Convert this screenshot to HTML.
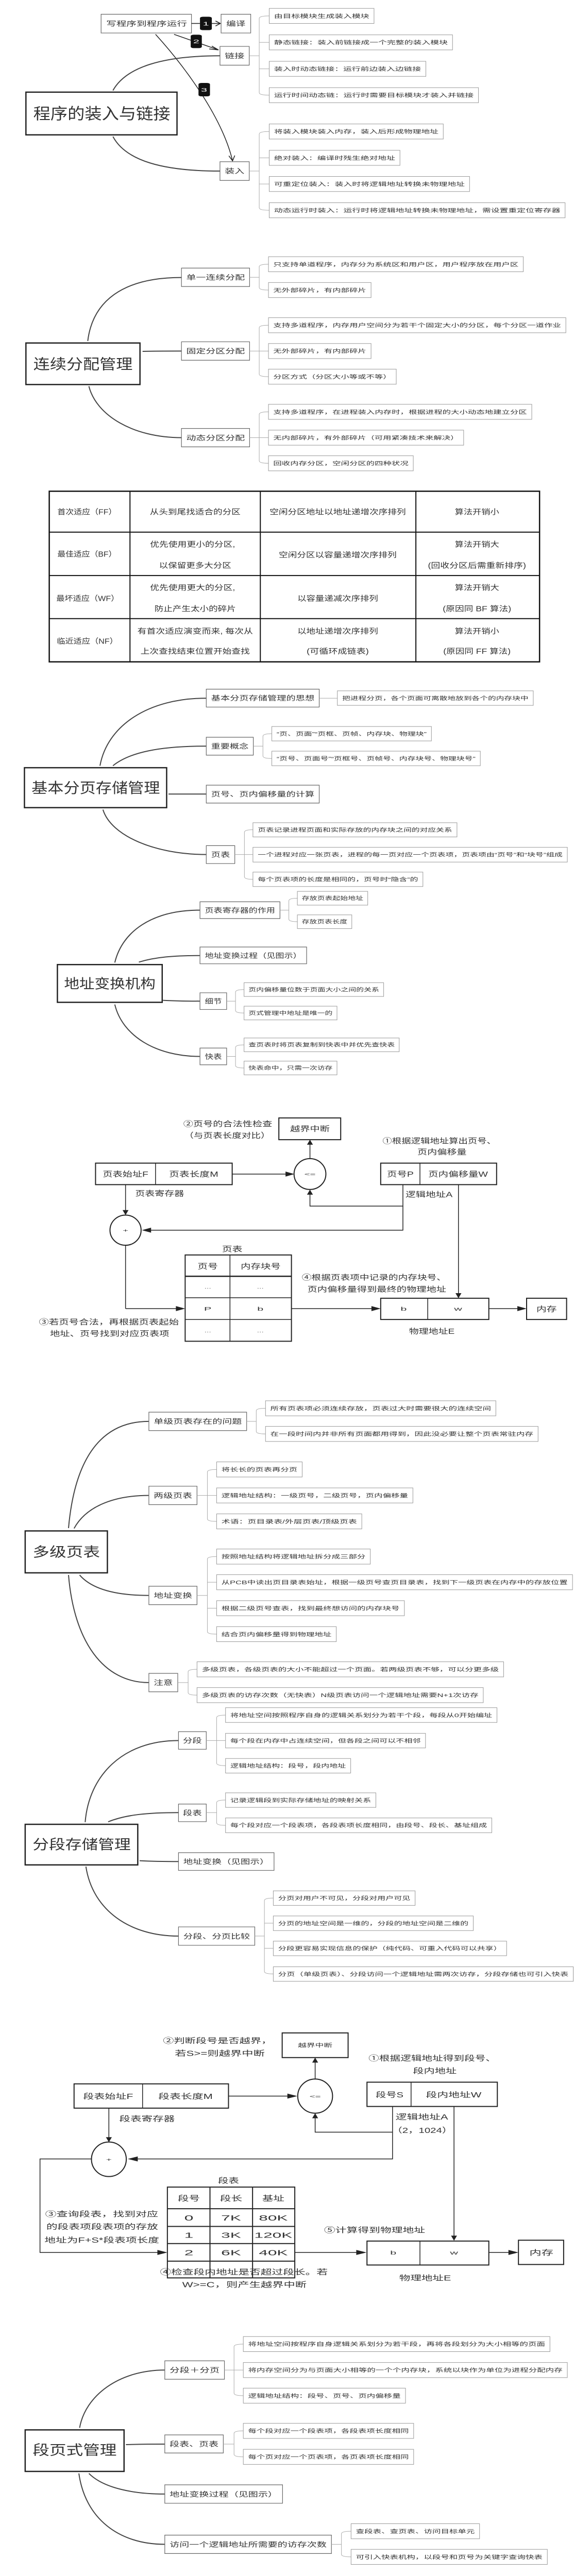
<!DOCTYPE html>
<html><head><meta charset="utf-8">
<style>
html,body{margin:0;padding:0;background:#fff;width:1114px;height:5145px;overflow:hidden;}
#wrap{width:1114px;height:5145px;overflow:hidden;position:relative;}
svg{display:block;position:absolute;left:0;top:0;width:1114px;height:5145px;}
svg *{vector-effect:non-scaling-stroke;}
text{font-family:"Liberation Sans","Noto Sans CJK SC",sans-serif;fill:#333;}
.c rect,rect.c{fill:#fff;stroke:#999;stroke-width:1;}
.cl{fill:none;stroke:#aaa;stroke-width:1;}
.cv{fill:none;stroke:#444;stroke-width:2;}
.t{fill:#fff;stroke:#222;stroke-width:2.5;}
.m{fill:#fff;stroke:#666;stroke-width:1.2;}
.d{fill:#fff;stroke:#222;stroke-width:2;}
.ln{fill:none;stroke:#222;stroke-width:1.5;}
.ct{font-size:32px;}
.mt{font-size:40px;}
.tt{font-size:88px;}
.tb{font-size:44px;text-anchor:middle;}
.dg{font-size:44px;}
.dm{font-size:44px;text-anchor:middle;}
</style></head>
<body><div id="wrap">
<svg width="1114" height="5145" viewBox="0 0 1550 15820" preserveAspectRatio="none" xmlns="http://www.w3.org/2000/svg">

<!-- ========== 程序的装入与链接 ========== -->
<rect class="m" x="273" y="85" width="244" height="112"/>
<text class="mt" x="287" y="155" textLength="218" lengthAdjust="spacingAndGlyphs">写程序到程序运行</text>
<line class="ln" x1="517" y1="140" x2="540" y2="140"/>
<rect x="540" y="100" width="32" height="80" rx="8" fill="#111"/>
<text x="556" y="152" font-size="30" style="fill:#fff" text-anchor="middle">1</text>
<line class="ln" x1="572" y1="140" x2="594" y2="140"/>
<path class="ln" d="M582 125 L595 140 L582 155"/>
<rect class="m" x="597" y="85" width="80" height="112"/>
<text class="mt" x="611" y="155" textLength="52" lengthAdjust="spacingAndGlyphs">编译</text>
<line class="ln" x1="470" y1="205" x2="590" y2="298"/>
<path class="ln" d="M572 275 L590 298 L565 292"/>
<rect x="515" y="207" width="30" height="80" rx="8" fill="#111"/>
<text x="530" y="259" font-size="30" style="fill:#fff" text-anchor="middle">2</text>
<rect class="m" x="594" y="277" width="79" height="112"/>
<text class="mt" x="607" y="347" textLength="53" lengthAdjust="spacingAndGlyphs">链接</text>
<path class="ln" d="M420 205 C500 400, 600 700, 628 960"/>
<path class="ln" d="M618 930 L628 960 L634 928"/>
<rect x="536" y="495" width="31" height="80" rx="8" fill="#111"/>
<text x="551" y="547" font-size="30" style="fill:#fff" text-anchor="middle">3</text>
<rect class="m" x="594" y="965" width="79" height="112"/>
<text class="mt" x="607" y="1035" textLength="53" lengthAdjust="spacingAndGlyphs">装入</text>
<path class="cv" d="M305 540 C340 400, 440 333, 594 333"/>
<path class="cv" d="M305 815 C340 960, 440 1021, 594 1021"/>
<rect class="t" x="70" y="550" width="408" height="255"/>
<text class="tt" x="90" y="712" style="font-size:95px" textLength="370" lengthAdjust="spacingAndGlyphs">程序的装入与链接</text>

<path class="cl" d="M673 333 H700 M727 95 Q700 95 700 110 V553 Q700 568 727 568 M700 253 H727 M700 411 H727"/>
<path class="cl" d="M673 1021 H700 M727 785 Q700 785 700 800 V1240 Q700 1255 727 1255 M700 942 H727 M700 1098 H727"/>
<g class="c">
<rect x="727" y="50" width="283" height="90"/><text class="ct" x="740" y="107" textLength="257" lengthAdjust="spacingAndGlyphs">由目标模块生成装入模块</text>
<rect x="727" y="208" width="495" height="90"/><text class="ct" x="740" y="265" textLength="469" lengthAdjust="spacingAndGlyphs">静态链接：装入前链接成一个完整的装入模块</text>
<rect x="727" y="366" width="423" height="90"/><text class="ct" x="740" y="423" textLength="397" lengthAdjust="spacingAndGlyphs">装入时动态链接：运行前边装入边链接</text>
<rect x="727" y="523" width="565" height="90"/><text class="ct" x="740" y="580" textLength="539" lengthAdjust="spacingAndGlyphs">运行时间动态链：运行时需要目标模块才装入并链接</text>
<rect x="727" y="740" width="470" height="90"/><text class="ct" x="740" y="797" textLength="444" lengthAdjust="spacingAndGlyphs">将装入模块装入内存，装入后形成物理地址</text>
<rect x="727" y="897" width="353" height="90"/><text class="ct" x="740" y="954" textLength="327" lengthAdjust="spacingAndGlyphs">绝对装入：编译时残生绝对地址</text>
<rect x="727" y="1053" width="541" height="90"/><text class="ct" x="740" y="1110" textLength="515" lengthAdjust="spacingAndGlyphs">可重定位装入：装入时将逻辑地址转换未物理地址</text>
<rect x="727" y="1210" width="799" height="90"/><text class="ct" x="740" y="1267" textLength="773" lengthAdjust="spacingAndGlyphs">动态运行时装入：运行时将逻辑地址转换未物理地址，需设置重定位寄存器</text>
</g>

<!-- ========== 连续分配管理 ========== -->
<path class="cv" d="M237 2035 C250 1800, 330 1656, 490 1656"/>
<path class="cv" d="M385 2097 C420 2095, 450 2095, 490 2095"/>
<path class="cv" d="M240 2305 C260 2480, 360 2612, 490 2612"/>
<rect class="t" x="70" y="2047" width="308" height="248"/>
<text class="tt" x="90" y="2203" style="font-size:85px" textLength="268" lengthAdjust="spacingAndGlyphs">连续分配管理</text>
<rect class="m" x="490" y="1600" width="184" height="110"/><text class="mt" x="503" y="1670" textLength="158" lengthAdjust="spacingAndGlyphs">单一连续分配</text>
<rect class="m" x="490" y="2040" width="184" height="110"/><text class="mt" x="503" y="2110" textLength="158" lengthAdjust="spacingAndGlyphs">固定分区分配</text>
<rect class="m" x="490" y="2557" width="184" height="110"/><text class="mt" x="503" y="2627" textLength="158" lengthAdjust="spacingAndGlyphs">动态分区分配</text>
<path class="cl" d="M674 1655 H700 M725 1577 Q700 1577 700 1592 V1716 Q700 1731 725 1731"/>
<path class="cl" d="M674 2095 H725 M725 1941 Q700 1941 700 1956 V2233 Q700 2248 725 2248"/>
<path class="cl" d="M674 2612 H725 M725 2458 Q700 2458 700 2473 V2750 Q700 2765 725 2765"/>
<g class="c">
<rect x="725" y="1532" width="688" height="90"/><text class="ct" x="738" y="1589" textLength="662" lengthAdjust="spacingAndGlyphs">只支持单道程序，内存分为系统区和用户区，用户程序放在用户区</text>
<rect x="725" y="1686" width="277" height="90"/><text class="ct" x="738" y="1743" textLength="251" lengthAdjust="spacingAndGlyphs">无外部碎片，有内部碎片</text>
<rect x="725" y="1896" width="803" height="90"/><text class="ct" x="738" y="1953" textLength="777" lengthAdjust="spacingAndGlyphs">支持多道程序，内存用户空间分为若干个固定大小的分区，每个分区一道作业</text>
<rect x="725" y="2050" width="277" height="90"/><text class="ct" x="738" y="2107" textLength="251" lengthAdjust="spacingAndGlyphs">无外部碎片，有内部碎片</text>
<rect x="725" y="2203" width="345" height="90"/><text class="ct" x="738" y="2260" textLength="319" lengthAdjust="spacingAndGlyphs">分区方式（分区大小等或不等）</text>
<rect x="725" y="2413" width="711" height="90"/><text class="ct" x="738" y="2470" textLength="685" lengthAdjust="spacingAndGlyphs">支持多道程序，在进程装入内存时，根据进程的大小动态地建立分区</text>
<rect x="725" y="2567" width="527" height="90"/><text class="ct" x="738" y="2624" textLength="501" lengthAdjust="spacingAndGlyphs">无内部碎片，有外部碎片（可用紧凑技术来解决）</text>
<rect x="725" y="2720" width="391" height="90"/><text class="ct" x="738" y="2777" textLength="365" lengthAdjust="spacingAndGlyphs">回收内存分区，空闲分区的四种状况</text>
</g>

<!-- table -->
<g>
<rect x="133" y="2932" width="1324" height="1018" fill="#fff" stroke="#111" stroke-width="2.5"/>
<path d="M133 3176 H1457 M133 3435 H1457 M133 3692 H1457 M351 2932 V3950 M703 2932 V3950 M1123 2932 V3950" stroke="#111" stroke-width="2" fill="none"/>
<text class="tb" x="235" y="3071" textLength="160" lengthAdjust="spacingAndGlyphs">首次适应（FF）</text>
<text class="tb" x="527" y="3071" textLength="245" lengthAdjust="spacingAndGlyphs">从头到尾找适合的分区</text>
<text class="tb" x="912" y="3071" textLength="368" lengthAdjust="spacingAndGlyphs">空闲分区地址以地址递增次序排列</text>
<text class="tb" x="1288" y="3071" textLength="120" lengthAdjust="spacingAndGlyphs">算法开销小</text>

<text class="tb" x="235" y="3322" textLength="160" lengthAdjust="spacingAndGlyphs">最佳适应（BF）</text>
<text class="tb" x="520" y="3264" textLength="230" lengthAdjust="spacingAndGlyphs">优先使用更小的分区,</text>
<text class="tb" x="527" y="3390" textLength="195" lengthAdjust="spacingAndGlyphs">以保留更多大分区</text>
<text class="tb" x="912" y="3327" textLength="318" lengthAdjust="spacingAndGlyphs">空闲分区以容量递增次序排列</text>
<text class="tb" x="1288" y="3264" textLength="120" lengthAdjust="spacingAndGlyphs">算法开销大</text>
<text class="tb" x="1288" y="3390" textLength="265" lengthAdjust="spacingAndGlyphs">(回收分区后需重新排序)</text>

<text class="tb" x="237" y="3587" textLength="170" lengthAdjust="spacingAndGlyphs">最坏适应（WF）</text>
<text class="tb" x="520" y="3522" textLength="230" lengthAdjust="spacingAndGlyphs">优先使用更大的分区,</text>
<text class="tb" x="527" y="3649" textLength="220" lengthAdjust="spacingAndGlyphs">防止产生太小的碎片</text>
<text class="tb" x="912" y="3587" textLength="218" lengthAdjust="spacingAndGlyphs">以容量递减次序排列</text>
<text class="tb" x="1288" y="3522" textLength="120" lengthAdjust="spacingAndGlyphs">算法开销大</text>
<text class="tb" x="1288" y="3649" textLength="185" lengthAdjust="spacingAndGlyphs">(原因同 BF 算法)</text>

<text class="tb" x="236" y="3842" textLength="165" lengthAdjust="spacingAndGlyphs">临近适应（NF）</text>
<text class="tb" x="527" y="3782" textLength="312" lengthAdjust="spacingAndGlyphs">有首次适应演变而来, 每次从</text>
<text class="tb" x="527" y="3902" textLength="295" lengthAdjust="spacingAndGlyphs">上次查找结束位置开始查找</text>
<text class="tb" x="912" y="3782" textLength="218" lengthAdjust="spacingAndGlyphs">以地址递增次序排列</text>
<text class="tb" x="912" y="3902" textLength="168" lengthAdjust="spacingAndGlyphs">(可循环成链表)</text>
<text class="tb" x="1288" y="3782" textLength="120" lengthAdjust="spacingAndGlyphs">算法开销小</text>
<text class="tb" x="1288" y="3902" textLength="182" lengthAdjust="spacingAndGlyphs">(原因同 FF 算法)</text>
</g>

<!-- ========== 基本分页存储管理 ========== -->
<path class="cv" d="M270 4570 C290 4330, 400 4167, 557 4167"/>
<path class="cv" d="M305 4570 C350 4490, 430 4453, 557 4453"/>
<path class="cv" d="M455 4739 H557"/>
<path class="cv" d="M278 4832 C300 4990, 420 5100, 557 5100"/>
<rect class="t" x="66" y="4582" width="384" height="238"/>
<text class="tt" x="85" y="4732" style="font-size:85px" textLength="347" lengthAdjust="spacingAndGlyphs">基本分页存储管理</text>
<rect class="m" x="557" y="4113" width="305" height="107"/><text class="mt" x="570" y="4181" textLength="279" lengthAdjust="spacingAndGlyphs">基本分页存储管理的思想</text>
<rect class="m" x="557" y="4400" width="127" height="107"/><text class="mt" x="570" y="4468" textLength="101" lengthAdjust="spacingAndGlyphs">重要概念</text>
<rect class="m" x="557" y="4686" width="305" height="107"/><text class="mt" x="570" y="4754" textLength="279" lengthAdjust="spacingAndGlyphs">页号、页内偏移量的计算</text>
<rect class="m" x="557" y="5047" width="77" height="107"/><text class="mt" x="570" y="5115" textLength="51" lengthAdjust="spacingAndGlyphs">页表</text>
<path class="cl" d="M862 4167 H911"/>
<path class="cl" d="M684 4453 H710 M734 4379 Q710 4379 710 4394 V4512 Q710 4527 734 4527"/>
<path class="cl" d="M634 5100 H683 M683 4952 Q660 4952 660 4967 V5233 Q660 5248 683 5248"/>
<g class="c">
<rect x="911" y="4123" width="529" height="87"/><text class="ct" x="924" y="4178" textLength="503" lengthAdjust="spacingAndGlyphs">把进程分页，各个页面可离散地放到各个的内存块中</text>
<rect x="734" y="4336" width="431" height="86"/><text class="ct" x="747" y="4391" textLength="405" lengthAdjust="spacingAndGlyphs">“页、页面”“页框、页帧、内存块、物理块”</text>
<rect x="734" y="4483" width="563" height="87"/><text class="ct" x="747" y="4538" textLength="537" lengthAdjust="spacingAndGlyphs">“页号、页面号”“页框号、页帧号、内存块号、物理块号”</text>
<rect x="683" y="4910" width="551" height="85"/><text class="ct" x="696" y="4964" textLength="525" lengthAdjust="spacingAndGlyphs">页表记录进程页面和实际存放的内存块之间的对应关系</text>
<rect x="683" y="5057" width="849" height="88"/><text class="ct" x="696" y="5112" textLength="823" lengthAdjust="spacingAndGlyphs">一个进程对应一张页表，进程的每一页对应一个页表项，页表项由“页号”和“块号”组成</text>
<rect x="683" y="5205" width="459" height="86"/><text class="ct" x="696" y="5260" textLength="433" lengthAdjust="spacingAndGlyphs">每个页表项的长度是相同的，页号时“隐含”的</text>
</g>

<!-- ========== 地址变换机构 ========== -->
<path class="cv" d="M310 5745 C330 5560, 410 5432, 540 5432"/>
<path class="cv" d="M375 5742 C420 5712, 470 5703, 540 5703"/>
<path class="cv" d="M440 5970 C480 5975, 510 5975, 540 5975"/>
<path class="cv" d="M310 5995 C330 6180, 420 6305, 540 6305"/>
<rect class="t" x="155" y="5757" width="283" height="225"/>
<text class="tt" x="173" y="5899" style="font-size:80px" textLength="247" lengthAdjust="spacingAndGlyphs">地址变换机构</text>
<rect class="m" x="540" y="5382" width="216" height="100"/><text class="mt" x="553" y="5447" textLength="190" lengthAdjust="spacingAndGlyphs">页表寄存器的作用</text>
<rect class="m" x="540" y="5652" width="288" height="100"/><text class="mt" x="553" y="5717" textLength="262" lengthAdjust="spacingAndGlyphs">地址变换过程（见图示）</text>
<rect class="m" x="540" y="5925" width="72" height="100"/><text class="mt" x="553" y="5990" textLength="46" lengthAdjust="spacingAndGlyphs">细节</text>
<rect class="m" x="540" y="6255" width="72" height="100"/><text class="mt" x="553" y="6320" textLength="46" lengthAdjust="spacingAndGlyphs">快表</text>
<path class="cl" d="M756 5432 H780 M803 5361 Q780 5361 780 5376 V5486 Q780 5501 803 5501"/>
<path class="cl" d="M612 5975 H636 M659 5906 Q636 5906 636 5921 V6031 Q636 6046 659 6046"/>
<path class="cl" d="M612 6305 H636 M659 6236 Q636 6236 636 6251 V6359 Q636 6374 659 6374"/>
<g class="c">
<rect x="803" y="5320" width="190" height="82"/><text class="ct" x="815" y="5372" textLength="166" lengthAdjust="spacingAndGlyphs">存放页表起始地址</text>
<rect x="803" y="5460" width="147" height="82"/><text class="ct" x="815" y="5512" textLength="123" lengthAdjust="spacingAndGlyphs">存放页表长度</text>
<rect x="659" y="5865" width="377" height="82"/><text class="ct" x="671" y="5917" textLength="353" lengthAdjust="spacingAndGlyphs">页内偏移量位数于页面大小之间的关系</text>
<rect x="659" y="6005" width="251" height="82"/><text class="ct" x="671" y="6057" textLength="227" lengthAdjust="spacingAndGlyphs">页式管理中地址是唯一的</text>
<rect x="659" y="6195" width="419" height="82"/><text class="ct" x="671" y="6247" textLength="395" lengthAdjust="spacingAndGlyphs">查页表时将页表复制到快表中并优先查快表</text>
<rect x="659" y="6333" width="251" height="82"/><text class="ct" x="671" y="6385" textLength="227" lengthAdjust="spacingAndGlyphs">快表命中，只需一次访存</text>
</g>

<!-- ========== 页式地址变换图 ========== -->
<rect class="d" x="753" y="6672" width="167" height="130"/>
<text class="dm" x="837" y="6753" textLength="107" lengthAdjust="spacingAndGlyphs">越界中断</text>
<text class="dg" x="495" y="6723" textLength="240" lengthAdjust="spacingAndGlyphs">②页号的合法性检查</text>
<text class="dg" x="497" y="6793" textLength="233" lengthAdjust="spacingAndGlyphs">（与页表长度对比）</text>
<text class="dg" x="1033" y="6825" textLength="307" lengthAdjust="spacingAndGlyphs">①根据逻辑地址算出页号、</text>
<text class="dg" x="1127" y="6890" textLength="133" lengthAdjust="spacingAndGlyphs">页内偏移量</text>
<rect class="d" x="258" y="6942" width="369" height="128"/>
<line class="ln" x1="420" y1="6942" x2="420" y2="7070"/>
<text class="dm" x="339" y="7023" textLength="123" lengthAdjust="spacingAndGlyphs">页表始址F</text>
<text class="dm" x="523" y="7023" textLength="133" lengthAdjust="spacingAndGlyphs">页表长度M</text>
<text class="dg" x="365" y="7138" textLength="132" lengthAdjust="spacingAndGlyphs">页表寄存器</text>
<line class="ln" x1="627" y1="7007" x2="775" y2="7007"/>
<polygon points="771,6992 795,7007 771,7022" fill="#222"/>
<ellipse cx="837" cy="7007" rx="43" ry="92" class="d"/>
<text x="837" y="7017" font-size="26" text-anchor="middle">&lt;=</text>
<line class="ln" x1="837" y1="6915" x2="837" y2="6830"/>
<polygon points="829,6832 837,6802 845,6832" fill="#222"/>
<rect class="d" x="1028" y="6942" width="313" height="128"/>
<line class="ln" x1="1134" y1="6942" x2="1134" y2="7070"/>
<text class="dm" x="1081" y="7023" textLength="72" lengthAdjust="spacingAndGlyphs">页号P</text>
<text class="dm" x="1237" y="7023" textLength="161" lengthAdjust="spacingAndGlyphs">页内偏移量W</text>
<text class="dg" x="1095" y="7145" textLength="127" lengthAdjust="spacingAndGlyphs">逻辑地址A</text>
<path class="ln" d="M1088 7070 V7198 H837 V7128"/>
<polygon points="829,7130 837,7100 845,7130" fill="#222"/>
<path class="ln" d="M1088 7198 V7342 H405"/>
<polygon points="408,7327 383,7342 408,7357" fill="#222"/>
<ellipse cx="339" cy="7342" rx="42" ry="90" class="d"/>
<text x="339" y="7352" font-size="26" text-anchor="middle">+</text>
<line class="ln" x1="339" y1="7070" x2="339" y2="7225"/>
<polygon points="331,7222 339,7252 347,7222" fill="#222"/>
<line class="ln" x1="1238" y1="7070" x2="1238" y2="7722"/>
<polygon points="1230,7718 1238,7748 1246,7718" fill="#222"/>
<text class="dm" x="627" y="7470" textLength="55" lengthAdjust="spacingAndGlyphs">页表</text>
<rect class="d" x="500" y="7490" width="287" height="515"/>
<path class="ln" d="M621 7490 V8005 M500 7617 H787 M500 7745 H787 M500 7875 H787"/>
<path d="M500 7617 H787" stroke="#222" stroke-width="2.5" fill="none"/>
<text class="dm" x="561" y="7573" textLength="55" lengthAdjust="spacingAndGlyphs">页号</text>
<text class="dm" x="704" y="7573" textLength="108" lengthAdjust="spacingAndGlyphs">内存块号</text>
<text x="561" y="7690" font-size="22" text-anchor="middle">...</text>
<text x="703" y="7690" font-size="22" text-anchor="middle">...</text>
<text x="561" y="7822" font-size="30" text-anchor="middle">P</text>
<text x="703" y="7822" font-size="30" text-anchor="middle">b</text>
<text x="561" y="7952" font-size="22" text-anchor="middle">...</text>
<text x="703" y="7952" font-size="22" text-anchor="middle">...</text>
<text class="dg" x="815" y="7640" textLength="390" lengthAdjust="spacingAndGlyphs">④根据页表项中记录的内存块号、</text>
<text class="dg" x="830" y="7710" textLength="375" lengthAdjust="spacingAndGlyphs">页内偏移量得到最终的物理地址</text>
<line class="ln" x1="339" y1="7432" x2="339" y2="7810"/>
<line class="ln" x1="339" y1="7810" x2="478" y2="7810"/>
<polygon points="475,7795 500,7810 475,7825" fill="#222"/>
<text class="dg" x="105" y="7905" textLength="378" lengthAdjust="spacingAndGlyphs">③若页号合法，再根据页表起始</text>
<text class="dg" x="135" y="7975" textLength="322" lengthAdjust="spacingAndGlyphs">地址、页号找到对应页表项</text>
<line class="ln" x1="787" y1="7810" x2="1006" y2="7810"/>
<polygon points="1003,7795 1028,7810 1003,7825" fill="#222"/>
<rect class="d" x="1028" y="7748" width="292" height="127"/>
<line class="ln" x1="1155" y1="7748" x2="1155" y2="7875"/>
<text x="1090" y="7822" font-size="30" text-anchor="middle">b</text>
<text x="1237" y="7822" font-size="30" text-anchor="middle">w</text>
<line class="ln" x1="1320" y1="7810" x2="1400" y2="7810"/>
<polygon points="1397,7795 1422,7810 1397,7825" fill="#222"/>
<rect class="d" x="1422" y="7748" width="108" height="127"/>
<text class="dm" x="1476" y="7828" textLength="55" lengthAdjust="spacingAndGlyphs">内存</text>
<text class="dm" x="1166" y="7960" textLength="123" lengthAdjust="spacingAndGlyphs">物理地址E</text>

<!-- ========== 多级页表 ========== -->
<path class="cv" d="M185 9120 C200 8750, 260 8483, 402 8483"/>
<path class="cv" d="M200 9122 C230 9000, 300 8925, 402 8925"/>
<path class="cv" d="M215 9400 C250 9490, 320 9522, 402 9522"/>
<path class="cv" d="M185 9400 C200 9800, 280 10042, 402 10042"/>
<rect class="t" x="68" y="9137" width="222" height="250"/>
<text class="tt" x="88" y="9290" style="font-size:80px" textLength="182" lengthAdjust="spacingAndGlyphs">多级页表</text>
<rect class="m" x="402" y="8428" width="264" height="110"/><text class="mt" x="415" y="8498" textLength="238" lengthAdjust="spacingAndGlyphs">单级页表存在的问题</text>
<rect class="m" x="402" y="8870" width="130" height="110"/><text class="mt" x="415" y="8940" textLength="104" lengthAdjust="spacingAndGlyphs">两级页表</text>
<rect class="m" x="402" y="9467" width="130" height="110"/><text class="mt" x="415" y="9537" textLength="104" lengthAdjust="spacingAndGlyphs">地址变换</text>
<rect class="m" x="402" y="9987" width="78" height="110"/><text class="mt" x="415" y="10057" textLength="52" lengthAdjust="spacingAndGlyphs">注意</text>
<path class="cl" d="M666 8483 H692 M717 8405 Q692 8405 692 8420 V8543 Q692 8558 717 8558"/>
<path class="cl" d="M532 8925 H585 M585 8770 Q560 8770 560 8785 V9065 Q560 9080 585 9080"/>
<path class="cl" d="M532 9522 H560 M585 9290 Q560 9290 560 9305 V9738 Q560 9753 585 9753 M560 9443 H585 M560 9598 H585"/>
<path class="cl" d="M480 10042 H508 M532 9963 Q508 9963 508 9978 V10102 Q508 10117 532 10117"/>
<g class="c">
<rect x="717" y="8360" width="622" height="90"/><text class="ct" x="730" y="8417" textLength="596" lengthAdjust="spacingAndGlyphs">所有页表项必须连续存放，页表过大时需要很大的连续空间</text>
<rect x="717" y="8513" width="736" height="90"/><text class="ct" x="730" y="8570" textLength="710" lengthAdjust="spacingAndGlyphs">在一段时间内并非所有页面都用得到，因此没必要让整个页表常驻内存</text>
<rect x="585" y="8725" width="231" height="90"/><text class="ct" x="598" y="8782" textLength="205" lengthAdjust="spacingAndGlyphs">将长长的页表再分页</text>
<rect x="585" y="8880" width="530" height="90"/><text class="ct" x="598" y="8937" textLength="504" lengthAdjust="spacingAndGlyphs">逻辑地址结构：一级页号，二级页号，页内偏移量</text>
<rect x="585" y="9035" width="392" height="90"/><text class="ct" x="598" y="9092" textLength="366" lengthAdjust="spacingAndGlyphs">术语：页目录表/外层页表/顶级页表</text>
<rect x="585" y="9245" width="415" height="90"/><text class="ct" x="598" y="9302" textLength="389" lengthAdjust="spacingAndGlyphs">按照地址结构将逻辑地址拆分成三部分</text>
<rect x="585" y="9398" width="961" height="90"/><text class="ct" x="598" y="9455" textLength="935" lengthAdjust="spacingAndGlyphs">从PCB中读出页目录表始址，根据一级页号查页目录表，找到下一级页表在内存中的存放位置</text>
<rect x="585" y="9553" width="507" height="90"/><text class="ct" x="598" y="9610" textLength="481" lengthAdjust="spacingAndGlyphs">根据二级页号查表，找到最终想访问的内存块号</text>
<rect x="585" y="9708" width="323" height="90"/><text class="ct" x="598" y="9765" textLength="297" lengthAdjust="spacingAndGlyphs">结合页内偏移量得到物理地址</text>
<rect x="532" y="9918" width="828" height="90"/><text class="ct" x="545" y="9975" textLength="802" lengthAdjust="spacingAndGlyphs">多级页表，各级页表的大小不能超过一个页面。若两级页表不够，可以分更多级</text>
<rect x="532" y="10072" width="773" height="90"/><text class="ct" x="545" y="10129" textLength="747" lengthAdjust="spacingAndGlyphs">多级页表的访存次数（无快表）N级页表访问一个逻辑地址需要N+1次访存</text>
</g>

<!-- ========== 分段存储管理 ========== -->
<path class="cv" d="M230 10875 C240 10600, 330 10388, 482 10388"/>
<path class="cv" d="M292 10873 C340 10830, 400 10818, 482 10818"/>
<path class="cv" d="M377 11105 C420 11110, 450 11110, 482 11110"/>
<path class="cv" d="M232 11140 C250 11400, 350 11555, 482 11555"/>
<rect class="t" x="68" y="10888" width="304" height="242"/>
<text class="tt" x="88" y="11037" style="font-size:82px" textLength="265" lengthAdjust="spacingAndGlyphs">分段存储管理</text>
<rect class="m" x="482" y="10335" width="75" height="105"/><text class="mt" x="494" y="10402" textLength="51" lengthAdjust="spacingAndGlyphs">分段</text>
<rect class="m" x="482" y="10767" width="75" height="105"/><text class="mt" x="494" y="10834" textLength="51" lengthAdjust="spacingAndGlyphs">段表</text>
<rect class="m" x="482" y="11057" width="258" height="106"/><text class="mt" x="495" y="11124" textLength="232" lengthAdjust="spacingAndGlyphs">地址变换（见图示）</text>
<rect class="m" x="482" y="11500" width="206" height="110"/><text class="mt" x="495" y="11570" textLength="180" lengthAdjust="spacingAndGlyphs">分段、分页比较</text>
<path class="cl" d="M557 10388 H609 M609 10236 Q585 10236 585 10251 V10523 Q585 10538 609 10538"/>
<path class="cl" d="M557 10818 H585 M609 10743 Q585 10743 585 10758 V10879 Q585 10894 609 10894"/>
<path class="cl" d="M688 11555 H714 M738 11328 Q714 11328 714 11343 V11766 Q714 11781 738 11781 M714 11478 H738 M714 11628 H738"/>
<g class="c">
<rect x="609" y="10192" width="733" height="88"/><text class="ct" x="622" y="10248" textLength="707" lengthAdjust="spacingAndGlyphs">将地址空间按照程序自身的逻辑关系划分为若干个段，每段从0开始编址</text>
<rect x="609" y="10345" width="540" height="87"/><text class="ct" x="622" y="10400" textLength="514" lengthAdjust="spacingAndGlyphs">每个段在内存中占连续空间，但各段之间可以不相邻</text>
<rect x="609" y="10495" width="338" height="87"/><text class="ct" x="622" y="10550" textLength="312" lengthAdjust="spacingAndGlyphs">逻辑地址结构：段号，段内地址</text>
<rect x="609" y="10700" width="406" height="87"/><text class="ct" x="622" y="10755" textLength="380" lengthAdjust="spacingAndGlyphs">记录逻辑段到实际存储地址的映射关系</text>
<rect x="609" y="10850" width="719" height="88"/><text class="ct" x="622" y="10905" textLength="693" lengthAdjust="spacingAndGlyphs">每个段对应一个段表项，各段表项长度相同，由段号、段长、基址组成</text>
<rect x="738" y="11285" width="383" height="87"/><text class="ct" x="751" y="11340" textLength="357" lengthAdjust="spacingAndGlyphs">分页对用户不可见，分段对用户可见</text>
<rect x="738" y="11435" width="540" height="87"/><text class="ct" x="751" y="11490" textLength="514" lengthAdjust="spacingAndGlyphs">分页的地址空间是一维的，分段的地址空间是二维的</text>
<rect x="738" y="11585" width="630" height="87"/><text class="ct" x="751" y="11640" textLength="604" lengthAdjust="spacingAndGlyphs">分段更容易实现信息的保护（纯代码、可重入代码可以共享）</text>
<rect x="738" y="11738" width="810" height="87"/><text class="ct" x="751" y="11793" textLength="784" lengthAdjust="spacingAndGlyphs">分页（单级页表）、分段访问一个逻辑地址需两次访存，分段存储也可引入快表</text>
</g>

<!-- ========== 段式地址变换图 ========== -->
<rect class="d" x="762" y="12133" width="178" height="147"/>
<text x="851" y="12218" font-size="32" text-anchor="middle" textLength="93" lengthAdjust="spacingAndGlyphs">越界中断</text>
<text class="dg" x="440" y="12195" textLength="295" lengthAdjust="spacingAndGlyphs">②判断段号是否越界，</text>
<text class="dg" x="472" y="12270" textLength="243" lengthAdjust="spacingAndGlyphs">若S&gt;=则越界中断</text>
<text class="dg" x="995" y="12300" textLength="345" lengthAdjust="spacingAndGlyphs">①根据逻辑地址得到段号、</text>
<text class="dg" x="1115" y="12375" textLength="118" lengthAdjust="spacingAndGlyphs">段内地址</text>
<rect class="d" x="200" y="12437" width="417" height="145"/>
<line class="ln" x1="385" y1="12437" x2="385" y2="12582"/>
<text class="dm" x="292" y="12527" textLength="135" lengthAdjust="spacingAndGlyphs">段表始址F</text>
<text class="dm" x="501" y="12527" textLength="147" lengthAdjust="spacingAndGlyphs">段表长度M</text>
<text class="dg" x="322" y="12660" textLength="150" lengthAdjust="spacingAndGlyphs">段表寄存器</text>
<line class="ln" x1="617" y1="12510" x2="780" y2="12510"/>
<polygon points="776,12495 803,12510 776,12525" fill="#222"/>
<ellipse cx="851" cy="12510" rx="47" ry="102" class="d"/>
<text x="851" y="12520" font-size="26" text-anchor="middle">&lt;=</text>
<line class="ln" x1="851" y1="12408" x2="851" y2="12308"/>
<polygon points="843,12310 851,12280 859,12310" fill="#222"/>
<rect class="d" x="991" y="12427" width="352" height="145"/>
<line class="ln" x1="1110" y1="12427" x2="1110" y2="12572"/>
<text class="dm" x="1052" y="12517" textLength="75" lengthAdjust="spacingAndGlyphs">段号S</text>
<text class="dm" x="1225" y="12517" textLength="150" lengthAdjust="spacingAndGlyphs">段内地址W</text>
<text class="dg" x="1068" y="12650" textLength="142" lengthAdjust="spacingAndGlyphs">逻辑地址A</text>
<text class="dg" x="1058" y="12730" textLength="164" lengthAdjust="spacingAndGlyphs">（2，1024）</text>
<path class="ln" d="M1060 12572 V12725 H851 V12640"/>
<polygon points="843,12642 851,12612 859,12642" fill="#222"/>
<path class="ln" d="M1060 12725 V12885 H370"/>
<polygon points="372,12870 345,12885 372,12900" fill="#222"/>
<ellipse cx="294" cy="12887" rx="47" ry="103" class="d"/>
<text x="294" y="12897" font-size="26" text-anchor="middle">+</text>
<line class="ln" x1="294" y1="12582" x2="294" y2="12757"/>
<polygon points="286,12755 294,12785 302,12755" fill="#222"/>
<path class="ln" d="M247 12885 H108 V13443 H428"/>
<polygon points="425,13428 452,13443 425,13458" fill="#222"/>
<line class="ln" x1="1226" y1="12572" x2="1226" y2="13345"/>
<polygon points="1218,13343 1226,13373 1234,13343" fill="#222"/>
<text class="dm" x="617" y="13030" textLength="57" lengthAdjust="spacingAndGlyphs">段表</text>
<rect class="d" x="452" y="13053" width="344" height="542"/>
<path d="M567 13053 V13595 M682 13053 V13595 M452 13182 H796 M452 13288 H796 M452 13390 H796 M452 13495 H796" stroke="#222" stroke-width="2" fill="none"/>
<text class="dm" x="510" y="13135" textLength="60" lengthAdjust="spacingAndGlyphs">段号</text>
<text class="dm" x="624" y="13135" textLength="60" lengthAdjust="spacingAndGlyphs">段长</text>
<text class="dm" x="738" y="13135" textLength="60" lengthAdjust="spacingAndGlyphs">基址</text>
<text class="dm" x="510" y="13252">0</text><text class="dm" x="624" y="13252">7K</text><text class="dm" x="738" y="13252">80K</text>
<text class="dm" x="510" y="13356">1</text><text class="dm" x="624" y="13356">3K</text><text class="dm" x="738" y="13356">120K</text>
<text class="dm" x="510" y="13460">2</text><text class="dm" x="624" y="13460">6K</text><text class="dm" x="738" y="13460">40K</text>
<text class="dg" x="122" y="13230" textLength="305" lengthAdjust="spacingAndGlyphs">③查询段表，找到对应</text>
<text class="dg" x="125" y="13305" textLength="302" lengthAdjust="spacingAndGlyphs">的段表项段表项的存放</text>
<text class="dg" x="120" y="13385" textLength="310" lengthAdjust="spacingAndGlyphs">地址为F+S*段表项长度</text>
<text class="dg" x="432" y="13575" textLength="453" lengthAdjust="spacingAndGlyphs">④检查段内地址是否超过段长。若</text>
<text class="dg" x="492" y="13650" textLength="336" lengthAdjust="spacingAndGlyphs">W&gt;=C，则产生越界中断</text>
<text class="dg" x="875" y="13325" textLength="273" lengthAdjust="spacingAndGlyphs">⑤计算得到物理地址</text>
<line class="ln" x1="796" y1="13443" x2="965" y2="13443"/>
<polygon points="962,13428 990,13443 962,13458" fill="#222"/>
<rect class="d" x="991" y="13375" width="329" height="143"/>
<line class="ln" x1="1134" y1="13375" x2="1134" y2="13518"/>
<text x="1062" y="13455" font-size="30" text-anchor="middle">b</text>
<text x="1226" y="13455" font-size="30" text-anchor="middle">w</text>
<line class="ln" x1="1320" y1="13443" x2="1376" y2="13443"/>
<polygon points="1373,13428 1400,13443 1373,13458" fill="#222"/>
<rect class="d" x="1400" y="13370" width="122" height="145"/>
<text class="dm" x="1462" y="13460" textLength="65" lengthAdjust="spacingAndGlyphs">内存</text>
<text class="dm" x="1148" y="13610" textLength="140" lengthAdjust="spacingAndGlyphs">物理地址E</text>

<!-- ========== 段页式管理 ========== -->
<path class="cv" d="M215 14490 C230 14300, 320 14145, 445 14145"/>
<path class="cv" d="M340 14590 C390 14587, 420 14587, 445 14587"/>
<path class="cv" d="M240 14762 C280 14850, 360 14885, 445 14885"/>
<path class="cv" d="M213 14762 C230 15030, 320 15185, 445 15185"/>
<rect class="t" x="68" y="14502" width="267" height="248"/>
<text class="tt" x="88" y="14652" style="font-size:82px" textLength="227" lengthAdjust="spacingAndGlyphs">段页式管理</text>
<rect class="m" x="445" y="14090" width="161" height="110"/><text class="mt" x="458" y="14160" textLength="135" lengthAdjust="spacingAndGlyphs">分段＋分页</text>
<rect class="m" x="445" y="14532" width="158" height="108"/><text class="mt" x="458" y="14601" textLength="132" lengthAdjust="spacingAndGlyphs">段表、页表</text>
<rect class="m" x="445" y="14830" width="318" height="110"/><text class="mt" x="458" y="14900" textLength="292" lengthAdjust="spacingAndGlyphs">地址变换过程（见图示）</text>
<rect class="m" x="445" y="15130" width="450" height="110"/><text class="mt" x="458" y="15200" textLength="424" lengthAdjust="spacingAndGlyphs">访问一个逻辑地址所需要的访存次数</text>
<path class="cl" d="M606 14145 H657 M657 13990 Q632 13990 632 14005 V14283 Q632 14298 657 14298"/>
<path class="cl" d="M603 14587 H632 M657 14508 Q632 14508 632 14523 V14648 Q632 14663 657 14663"/>
<path class="cl" d="M895 15185 H922 M948 15107 Q922 15107 922 15122 V15245 Q922 15260 948 15260"/>
<g class="c">
<rect x="657" y="13945" width="828" height="90"/><text class="ct" x="670" y="14002" textLength="802" lengthAdjust="spacingAndGlyphs">将地址空间按程序自身逻辑关系划分为若干段，再将各段划分为大小相等的页面</text>
<rect x="657" y="14100" width="875" height="90"/><text class="ct" x="670" y="14157" textLength="849" lengthAdjust="spacingAndGlyphs">将内存空间分为与页面大小相等的一个个内存块，系统以块作为单位为进程分配内存</text>
<rect x="657" y="14253" width="438" height="90"/><text class="ct" x="670" y="14310" textLength="412" lengthAdjust="spacingAndGlyphs">逻辑地址结构：段号、页号、页内偏移量</text>
<rect x="657" y="14463" width="460" height="90"/><text class="ct" x="670" y="14520" textLength="434" lengthAdjust="spacingAndGlyphs">每个段对应一个段表项，各段表项长度相同</text>
<rect x="657" y="14618" width="460" height="90"/><text class="ct" x="670" y="14675" textLength="434" lengthAdjust="spacingAndGlyphs">每个页对应一个页表项，各页表项长度相同</text>
<rect x="948" y="15062" width="347" height="90"/><text class="ct" x="961" y="15119" textLength="321" lengthAdjust="spacingAndGlyphs">查段表、查页表、访问目标单元</text>
<rect x="948" y="15215" width="530" height="90"/><text class="ct" x="961" y="15272" textLength="504" lengthAdjust="spacingAndGlyphs">可引入快表机构，以段号和页号为关键字查询快表</text>
</g>
</svg>
</div>
</body></html>
